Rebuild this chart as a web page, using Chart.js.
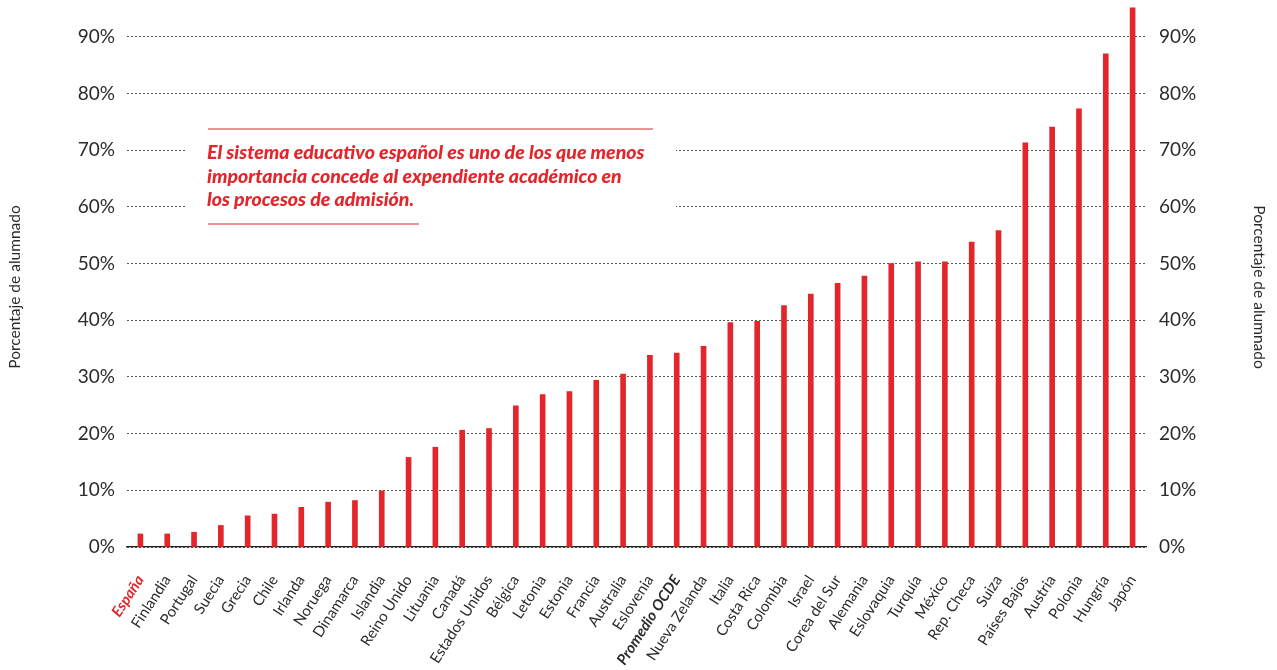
<!DOCTYPE html>
<html lang="es">
<head>
<meta charset="UTF-8">
<title>Porcentaje de alumnado</title>
<script src="https://cdn.jsdelivr.net/npm/chart.js"></script>
<style>
  body { margin: 0; background: #fff; }
  #wrap { width: 1277px; height: 670px; position: relative; }
</style>
</head>
<body>
<div id="wrap"><canvas id="chart"></canvas></div>
<script>
// Data
const countries = [
  'España', 'Finlandia', 'Portugal', 'Suecia', 'Grecia', 'Chile', 'Irlanda', 'Noruega',
  'Dinamarca', 'Islandia', 'Reino Unido', 'Lituania', 'Canadá', 'Estados Unidos', 'Bélgica',
  'Letonia', 'Estonia', 'Francia', 'Australia', 'Eslovenia', 'Promedio OCDE', 'Nueva Zelanda',
  'Italia', 'Costa Rica', 'Colombia', 'Israel', 'Corea del Sur', 'Alemania', 'Eslovaquia',
  'Turquía', 'México', 'Rep. Checa', 'Suiza', 'Países Bajos', 'Austria', 'Polonia', 'Hungría', 'Japón'
];
const values = [
  2.3, 2.3, 2.6, 3.8, 5.5, 5.8, 7.0, 7.9,
  8.2, 9.9, 15.8, 17.6, 20.6, 20.9, 24.9,
  26.9, 27.4, 29.4, 30.5, 33.8, 34.2, 35.4,
  39.6, 39.8, 42.6, 44.6, 46.5, 47.8, 50.0,
  50.3, 50.3, 53.8, 55.8, 71.3, 74.1, 77.3, 87.0, 95.1
];
const yTicks = [0, 10, 20, 30, 40, 50, 60, 70, 80, 90];
const axisTitle = 'Porcentaje de alumnado';
const noteLines = [
  'El sistema educativo español es uno de los que menos',
  'importancia concede al expendiente académico en',
  'los procesos de admisión.'
];

const RED = '#e2262b';
const TEXT = '#2b2b2b';
const spainIdx = countries.indexOf('España');
const oecdIdx = countries.indexOf('Promedio OCDE');

const keepTicks = scale => {
  scale.ticks = yTicks.map(v => ({ value: v }));
};
const noVPad = scale => { scale.paddingTop = 0; scale.paddingBottom = 0; };

// white box with quote over the grid, plus the two side titles
const extras = {
  id: 'extras',
  beforeDatasetsDraw(chart) {
    const c = chart.ctx;
    c.save();
    c.fillStyle = '#fff';
    c.fillRect(186, 100, 490, 155);
    c.strokeStyle = RED;
    c.lineWidth = 1.2;
    c.beginPath();
    c.moveTo(208, 129); c.lineTo(653, 129);
    c.moveTo(208, 224); c.lineTo(419, 224);
    c.stroke();
    c.fillStyle = RED;
    c.font = 'italic 900 19.5px Lato';
    c.textBaseline = 'middle';
    noteLines.forEach((t, i) => c.fillText(t, 207, 153 + i * 23.5));
    c.restore();
  },
  afterDraw(chart) {
    const c = chart.ctx;
    [[15, -1], [1259, 1]].forEach(([x, dir]) => {
      c.save();
      c.fillStyle = TEXT;
      c.font = '15.5px Lato';
      c.textAlign = 'center';
      c.textBaseline = 'middle';
      c.translate(x, 287);
      c.rotate(dir * Math.PI / 2);
      c.fillText(axisTitle, 0, 0);
      c.restore();
    });
  }
};

new Chart(document.getElementById('chart'), {
  type: 'bar',
  data: {
    labels: countries,
    datasets: [{
      data: values,
      backgroundColor: RED,
      barThickness: 5,
      borderWidth: 0
    }]
  },
  options: {
    responsive: true,
    maintainAspectRatio: false,
    animation: false,
    layout: { padding: 0 },
    plugins: { legend: { display: false }, tooltip: { enabled: false } },
    scales: {
      x: {
        grid: { display: false, drawTicks: false },
        border: { display: true, color: '#222', width: 1.3 },
        ticks: {
          autoSkip: false,
          minRotation: 57,
          maxRotation: 57,
          padding: 25,
          color: ctx => ctx.index === spainIdx ? RED : TEXT,
          font: ctx => (ctx.index === spainIdx || ctx.index === oecdIdx)
            ? { family: 'Lato', size: 15, style: 'italic', weight: 'bold' }
            : { family: 'Lato', size: 15 }
        },
        afterFit: s => { s.height = 123; }
      },
      y: {
        min: 0,
        max: 96.5,
        afterBuildTicks: keepTicks,
        grid: { color: '#555', lineWidth: 1, drawTicks: false },
        border: { display: false, dash: [2, 2] },
        ticks: {
          padding: 12,
          color: TEXT,
          font: { family: 'Lato', size: 19 },
          callback: v => v + '%'
        },
        afterFit: s => { s.width = 127; noVPad(s); }
      },
      y2: {
        position: 'right',
        min: 0,
        max: 96.5,
        afterBuildTicks: keepTicks,
        grid: { display: false, drawTicks: false },
        border: { display: false },
        ticks: {
          padding: 13,
          color: TEXT,
          font: { family: 'Lato', size: 19 },
          callback: v => v + '%'
        },
        afterFit: s => { s.width = 131; noVPad(s); }
      }
    }
  },
  plugins: [extras]
});
</script>
</body>
</html>
